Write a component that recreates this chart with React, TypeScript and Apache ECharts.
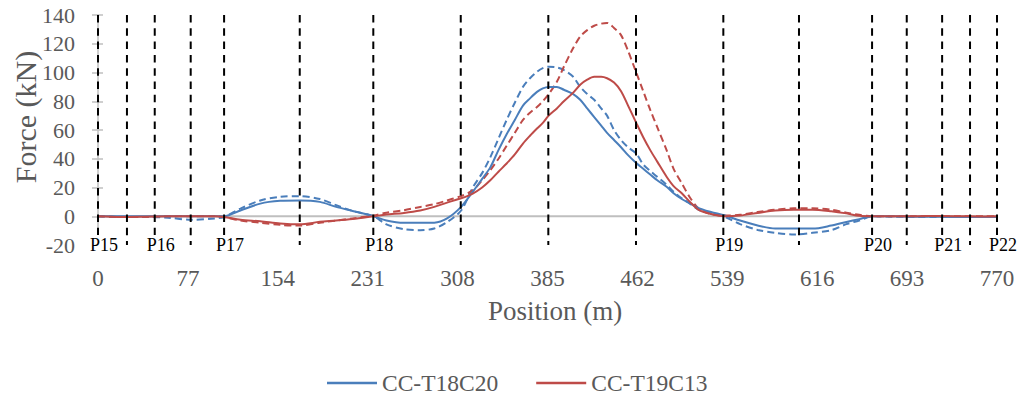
import React, { useEffect, useRef } from "react";
import * as echarts from "echarts";

// Position along the bridge (m)
const positions = [
  0, 20, 40, 60, 80, 100, 108, 122, 139, 156, 173, 190, 204, 218, 236, 247, 262, 276, 288, 299,
  311, 321, 329, 336, 343, 350, 357, 364, 370, 376, 381, 386, 393, 399, 407, 413, 419, 425, 431, 436,
  442, 448, 454, 461, 467, 473, 479, 487, 493, 500, 507, 515, 525, 537, 550, 565, 580, 596, 612, 628,
  641, 652, 663, 680, 700, 720, 740, 760, 770,
];

// CC-T18C20 (blue) – solid
const t18c20Solid = [
  0, 0, 0, 0, 0, 0, 0,
  4, 8.8, 10.7, 11, 10, 6.5, 3.7,
  0, -3, -4.6, -4.6, -4.5, -1.5,
  6.5, 17, 26, 34, 46, 57, 67, 77, 82, 86.5, 89, 90, 90, 88,
  85, 81, 75, 69, 63, 58, 53, 48, 42.5, 37, 33, 29, 25, 20.5, 16, 12, 9, 5.5,
  3, 0.5, -3, -6.5, -8.6, -8.6, -8.6, -6.5, -4, -2, 0,
  0, -0.3, -0.4, -0.5, -0.5, -0.5,
];

// CC-T18C20 (blue) – dashed
const t18c20Dashed = [
  0, -0.5, -0.5, -1, -2.5, -1.5, -0.5,
  5.3, 11, 13.5, 14, 12, 7.7, 3.7,
  0, -5.6, -9, -9.7, -8.5, -4,
  4, 20, 30, 41, 54, 67, 79, 90, 96, 100.5, 103, 104, 103.5, 101.7,
  97, 90, 85, 81, 75, 70, 60, 53, 48, 43.6, 36, 31.5, 27.4, 22, 17, 12.5, 8.8, 4.2,
  2, -0.5, -5.5, -9.5, -11.5, -12.7, -11.5, -9.7, -5.5, -3, 0,
  -0.3, -0.5, -0.6, -0.6, -0.6, -0.6,
];

// CC-T19C13 (red) – solid
const t19c13Solid = [
  0, -0.5, -0.3, 0, 0, 0, -0.5,
  -2.5, -3.5, -5, -5.6, -3.9, -3, -1.9,
  0, 1.2, 2.3, 4, 6.5, 9.5,
  12.5, 15.8, 20, 25, 31, 36.7, 43, 50.6, 56, 61, 65, 70, 75, 80,
  86, 91.5, 95, 97, 97, 96, 93, 87, 77, 65, 55, 46, 38, 27.5, 21, 16, 10, 4.2,
  1.5, 0, 0.5, 2.3, 4, 4.6, 4.6, 3.5, 2, 0.3, 0,
  0, 0, 0.2, 0, -0.2, 0,
];

// CC-T19C13 (red) – dashed
const t19c13Dashed = [
  0, -0.5, -0.5, 0, 0, 0, -0.5,
  -3, -4.5, -6, -6.5, -4.5, -3, -1.5,
  0.5, 2.5, 4.2, 6.5, 8.4, 11,
  14, 18, 25, 32, 40, 49, 58, 67, 72, 76, 80, 85, 93.5, 104,
  117, 125, 129.5, 132.5, 134, 134.5, 131, 126, 115, 100, 87, 74, 62, 46, 33, 23, 13, 5,
  1.5, 0.5, 1, 3, 4.5, 5.5, 5.5, 4.5, 2.5, 1, 0,
  0, 0, 0, 0, 0, 0,
];

// Piers (labelled guides) and other guide positions (m)
const pierPositions = [0, 48.6, 108, 235.8, 535.6, 663, 723, 770];
const pierLabels = ["P15", "P16", "P17", "P18", "P19", "P20", "P21", "P22"];
const otherGuides = [24.8, 79.4, 172.8, 310.7, 385.7, 460.8, 600.4, 692.7, 746.9];

const zeroLine = [
  [0, 0],
  [770, 0],
];

const BLUE = "#4A7EBB";
const RED = "#BE4B48";
const FONT = "Liberation Serif";
const GREY_TEXT = "#595959";

const zip = (xs: number[], ys: number[]) => xs.map((x, i) => [x, ys[i]]);

export default function App() {
  const ref = useRef<HTMLDivElement>(null);

  useEffect(() => {
    if (!ref.current) return;
    const chart = echarts.init(ref.current, undefined, { renderer: "svg" });

    const guides = [
      ...pierPositions.map((p, i) => [p, i]),
      ...otherGuides.map((p) => [p, -1]),
    ];

    const option: any = {
      animation: false,
      textStyle: { fontFamily: FONT },
      grid: { left: 98, right: 27, top: 15, bottom: 151, containLabel: false },
      legend: {
        data: ["CC-T18C20", "CC-T19C13"],
        left: 322,
        top: 366,
        icon: "rect",
        itemWidth: 50,
        itemHeight: 2.5,
        itemGap: 38,
        textStyle: { fontFamily: FONT, fontSize: 23.5, color: GREY_TEXT, lineHeight: 24 },
      },
      xAxis: {
        type: "value",
        min: 0,
        max: 770,
        interval: 77,
        axisLine: { show: false, onZero: false },
        axisTick: { show: false },
        splitLine: { show: false },
        axisLabel: { fontSize: 23, color: GREY_TEXT, margin: 22, fontFamily: FONT },
      },
      yAxis: [
        {
          type: "value",
          min: -20,
          max: 140,
          interval: 20,
          axisLine: { show: true, onZero: false, lineStyle: { color: "#BFBFBF", width: 1.5 } },
          axisTick: { show: true, length: 6, lineStyle: { color: "#BFBFBF", width: 1.5 } },
          splitLine: { show: false },
          axisLabel: { fontSize: 22, color: GREY_TEXT, margin: 23, fontFamily: FONT },
        },
        {
          type: "value",
          position: "left",
          min: -20,
          max: 140,
          interval: 20,
          axisLine: { show: false, onZero: false },
          axisTick: { show: true, inside: true, length: 5, lineStyle: { color: "#BFBFBF", width: 1.5 } },
          splitLine: { show: false },
          axisLabel: { show: false },
        },
      ],
      graphic: [
        {
          type: "text",
          x: 555,
          y: 311,
          style: {
            text: "Position (m)",
            fontFamily: FONT,
            fontSize: 27,
            fill: GREY_TEXT,
            align: "center",
            verticalAlign: "middle",
          },
        },
        {
          type: "text",
          x: 25,
          y: 117,
          rotation: Math.PI / 2,
          style: {
            text: "Force (kN)",
            fontFamily: FONT,
            fontSize: 30,
            fill: GREY_TEXT,
            align: "center",
            verticalAlign: "middle",
          },
        },
      ],
      series: [
        {
          name: "zero",
          type: "line",
          data: zeroLine,
          symbol: "none",
          silent: true,
          z: 1,
          lineStyle: { color: "#BFBFBF", width: 2 },
        },
        {
          name: "CC-T18C20 (B)",
          type: "line",
          data: zip(positions, t18c20Dashed),
          symbol: "none",
          smooth: 0.3,
          z: 2,
          color: BLUE,
          lineStyle: { color: BLUE, width: 2, type: [7, 4] },
        },
        {
          name: "CC-T19C13 (B)",
          type: "line",
          data: zip(positions, t19c13Dashed),
          symbol: "none",
          smooth: 0.3,
          z: 2,
          color: RED,
          lineStyle: { color: RED, width: 2, type: [7, 4] },
        },
        {
          name: "CC-T18C20",
          type: "line",
          data: zip(positions, t18c20Solid),
          symbol: "none",
          smooth: 0.3,
          z: 3,
          color: BLUE,
          lineStyle: { color: BLUE, width: 2 },
        },
        {
          name: "CC-T19C13",
          type: "line",
          data: zip(positions, t19c13Solid),
          symbol: "none",
          smooth: 0.3,
          z: 3,
          color: RED,
          lineStyle: { color: RED, width: 2 },
        },
        {
          name: "guides",
          type: "custom",
          data: guides,
          z: 5,
          clip: false,
          silent: true,
          renderItem: (params: any, api: any) => {
            const x = api.value(0);
            const idx = api.value(1);
            const top = api.coord([x, 140]);
            const bottom = api.coord([x, -20]);
            const children: any[] = [
              {
                type: "line",
                shape: { x1: top[0], y1: top[1], x2: bottom[0], y2: bottom[1] },
                style: { stroke: "#000", lineWidth: 2, lineDash: [7.5, 5.8] },
              },
            ];
            if (idx >= 0) {
              children.push({
                type: "text",
                x: bottom[0] + 6,
                y: bottom[1],
                style: {
                  text: pierLabels[idx],
                  fontFamily: FONT,
                  fontSize: 18,
                  fill: "#000",
                  align: "center",
                  verticalAlign: "middle",
                  backgroundColor: "#fff",
                  padding: [1, 1],
                },
              });
            }
            return { type: "group", children };
          },
        },
      ],
    };

    chart.setOption(option);
    return () => {
      chart.dispose();
    };
  }, []);

  return (
    <div
      ref={ref}
      style={{ position: "fixed", left: 0, top: 0, width: 1024, height: 396, background: "#fff" }}
    />
  );
}
